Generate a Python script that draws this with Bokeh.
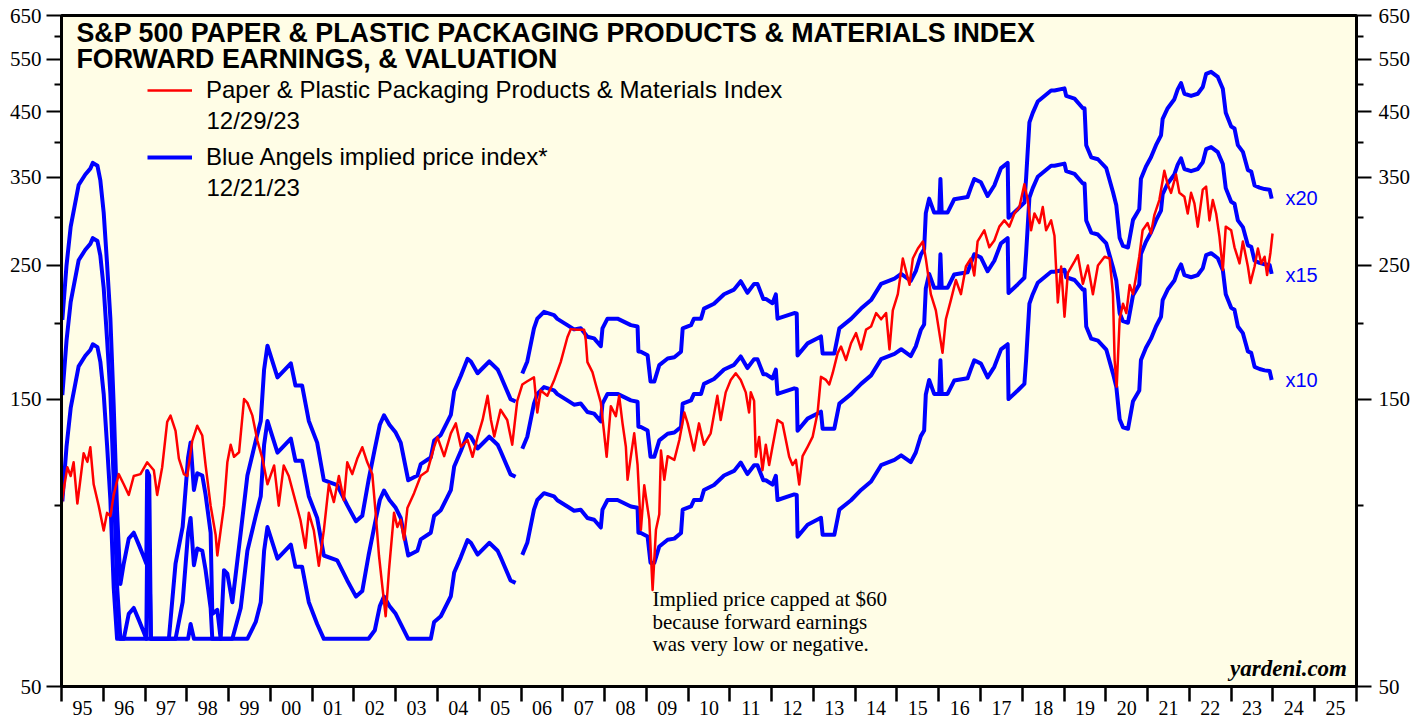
import numpy as np
from bokeh.plotting import figure
from bokeh.models import (Range1d, LogAxis, FixedTicker, PrintfTickFormatter, Label,
                          Legend, LegendItem)
from bokeh.embed import file_html
from bokeh.resources import INLINE

# ---------------- data ----------------
red_year = [
    1995.00, 1995.07, 1995.14, 1995.22, 1995.29, 1995.38, 1995.45, 1995.53, 1995.62, 1995.69,
    1995.77, 1995.89, 1996.01, 1996.09, 1996.17, 1996.25, 1996.37, 1996.49, 1996.61, 1996.73,
    1996.89, 1997.05, 1997.21, 1997.29, 1997.41, 1997.53, 1997.61, 1997.73, 1997.81, 1997.93,
    1998.01, 1998.13, 1998.25, 1998.37, 1998.45, 1998.57, 1998.69, 1998.73, 1998.81, 1998.89,
    1998.97, 1999.05, 1999.13, 1999.25, 1999.37, 1999.45, 1999.57, 1999.69, 1999.81, 1999.93,
    2000.09, 2000.20, 2000.32, 2000.44, 2000.56, 2000.72, 2000.84, 2000.92, 2001.04, 2001.16,
    2001.28, 2001.40, 2001.52, 2001.64, 2001.76, 2001.84, 2001.96, 2002.08, 2002.20, 2002.32,
    2002.44, 2002.52, 2002.60, 2002.68, 2002.76, 2002.84, 2002.96, 2003.04,
    2003.12, 2003.20, 2003.28, 2003.44, 2003.60, 2003.76, 2003.92, 2004.00, 2004.16, 2004.32,
    2004.44, 2004.56, 2004.72, 2004.84, 2004.96, 2005.08, 2005.20, 2005.28, 2005.36, 2005.51,
    2005.67, 2005.79, 2005.91, 2006.03, 2006.15, 2006.31, 2006.39, 2006.47, 2006.63, 2006.79,
    2006.95, 2007.11, 2007.19, 2007.35, 2007.51, 2007.55, 2007.59, 2007.71, 2007.79, 2007.91,
    2007.99, 2008.05, 2008.15, 2008.27, 2008.35, 2008.43, 2008.51, 2008.55, 2008.63, 2008.71,
    2008.79, 2008.87, 2008.95, 2009.07, 2009.15, 2009.23, 2009.31, 2009.35, 2009.43, 2009.51,
    2009.67, 2009.79, 2009.91, 2009.99, 2010.14, 2010.26, 2010.38, 2010.54, 2010.70, 2010.78,
    2010.90, 2011.02, 2011.14,
    2011.26, 2011.38, 2011.46, 2011.50, 2011.58, 2011.62, 2011.70, 2011.78, 2011.86, 2011.94,
    2012.02, 2012.14, 2012.26, 2012.34, 2012.42, 2012.50, 2012.58, 2012.66, 2012.74, 2012.86,
    2012.98, 2013.10, 2013.18, 2013.30, 2013.38, 2013.46, 2013.58, 2013.66, 2013.78, 2013.90,
    2014.02, 2014.14, 2014.26, 2014.38, 2014.50, 2014.62, 2014.74, 2014.82, 2014.90, 2015.02,
    2015.14, 2015.22, 2015.30, 2015.38, 2015.50, 2015.62, 2015.69, 2015.81, 2015.93, 2016.09,
    2016.17, 2016.29, 2016.41, 2016.53, 2016.65, 2016.77, 2016.85, 2016.93, 2017.09, 2017.21,
    2017.33, 2017.45, 2017.57, 2017.69, 2017.81, 2017.93, 2018.05, 2018.13, 2018.21, 2018.29,
    2018.41, 2018.49, 2018.57,
    2018.69, 2018.77, 2018.85, 2018.93, 2019.01, 2019.09, 2019.25, 2019.33, 2019.45, 2019.57,
    2019.69, 2019.81, 2019.97, 2020.09, 2020.17, 2020.21, 2020.26, 2020.33, 2020.41, 2020.49,
    2020.57, 2020.65, 2020.72, 2020.80, 2020.88, 2021.00, 2021.08, 2021.16, 2021.28, 2021.40,
    2021.48, 2021.56, 2021.68, 2021.76, 2021.88, 2021.96, 2022.04, 2022.12, 2022.20, 2022.32,
    2022.40, 2022.48, 2022.56, 2022.64, 2022.72, 2022.80, 2022.87, 2023.00, 2023.08, 2023.20,
    2023.28, 2023.40, 2023.46, 2023.56, 2023.64, 2023.72, 2023.80, 2023.86, 2023.94, 2023.99,
]
red_value = [
    100.0, 108.0, 115.6, 111.8, 117.8, 100.6, 110.0, 122.0, 118.0, 124.8,
    108.3, 99.8, 90.8, 97.1, 95.9, 104.0, 112.6, 108.3, 104.0, 111.8,
    112.6, 117.8, 114.3, 104.0, 115.6, 137.5, 140.8, 132.8, 119.5, 112.6,
    111.8, 127.9, 135.5, 130.5, 116.4, 99.8, 89.2, 82.5, 90.8, 99.8,
    117.8, 126.0, 120.3, 122.4, 150.0, 147.9, 140.8, 127.9, 119.5, 108.3,
    116.4, 99.8, 116.4, 111.8, 104.0, 94.5, 84.9, 97.1, 90.8, 79.3,
    90.8, 108.3, 101.2, 111.8, 101.9, 117.8, 112.6, 119.5, 124.8, 117.8,
    112.6, 97.1, 82.5, 73.3, 65.4, 78.1, 97.1, 92.0,
    94.6, 87.6, 98.9, 104.7, 111.9, 114.0, 125.0, 129.7, 120.6, 131.6,
    136.7, 125.0, 128.3, 120.3, 129.8, 138.5, 151.9, 138.5, 130.0, 144.0,
    138.5, 126.0, 149.0, 158.6, 160.6, 163.0, 142.5, 155.0, 152.0, 161.0,
    172.8, 190.0, 196.0, 195.6, 195.6, 188.0, 172.8, 166.3, 158.6, 148.0,
    131.6, 120.3, 146.0, 140.5, 151.9, 136.7, 125.0, 110.2, 120.6, 131.6,
    116.6, 91.0, 107.9, 94.6, 72.3, 91.0, 96.6, 123.2, 110.2, 120.6,
    118.9, 128.3, 142.5, 136.7, 123.2, 136.7, 126.0, 131.6, 151.9, 138.5,
    153.9, 161.4, 165.6,
    161.4, 153.9, 142.5, 154.0, 149.0, 120.3, 129.8, 114.3, 126.0, 116.6,
    125.0, 138.5, 136.7, 128.3, 120.3, 116.6, 118.9, 108.2, 120.6, 125.0,
    129.8, 142.5, 163.3, 161.4, 158.6, 165.6, 178.8, 183.4, 174.2, 185.7,
    193.0, 181.4, 195.6, 198.0, 208.4, 203.5, 208.4, 181.4, 210.6, 224.0,
    256.8, 244.0, 232.2, 256.8, 266.8, 274.0, 256.8, 224.0, 210.6, 179.0,
    203.5, 219.0, 236.5, 224.0, 249.0, 256.8, 240.6, 274.0, 286.0, 268.0,
    275.0, 290.0, 297.0, 290.0, 305.0, 312.5, 341.0, 321.0, 286.0, 305.0,
    294.0, 312.5, 286.0,
    297.0, 280.0, 217.0, 249.0, 205.5, 243.0, 254.0, 260.0, 233.0, 250.0,
    224.0, 250.0, 258.5, 256.8, 224.0, 174.0, 157.3, 203.5, 216.0, 208.4,
    232.0, 224.0, 239.0, 258.5, 286.0, 294.0, 282.5, 303.0, 321.0, 359.0,
    341.0, 330.0, 354.0, 330.0, 325.0, 305.0, 330.0, 317.0, 290.0, 334.0,
    338.0, 297.0, 321.0, 305.0, 279.0, 245.6, 290.0, 286.0, 268.0, 252.0,
    274.0, 249.0, 233.7, 249.0, 266.8, 252.0, 258.5, 241.0, 262.5, 282.5,
]

earn_year = [
    1995.02, 1995.12, 1995.22, 1995.41, 1995.57, 1995.69, 1995.75, 1995.86, 1995.93, 1996.01,
    1996.09, 1996.17, 1996.25, 1996.33, 1996.41, 1996.49, 1996.61, 1996.73, 1996.85, 1996.97,
    1997.03, 1997.05, 1997.10, 1997.14, 1997.30, 1997.45, 1997.57, 1997.73, 1997.90, 1998.03,
    1998.09, 1998.17, 1998.25, 1998.37, 1998.45, 1998.57, 1998.61, 1998.73, 1998.81, 1998.89,
    1998.97, 1999.09, 1999.29, 1999.45, 1999.65, 1999.77, 1999.85, 1999.93, 2000.17, 2000.49,
    2000.60, 2000.76, 2000.92, 2001.12, 2001.28, 2001.60, 2001.84, 2002.05, 2002.20, 2002.35,
    2002.50, 2002.62, 2002.72, 2002.85, 2003.00, 2003.12, 2003.30, 2003.52, 2003.60, 2003.84,
    2003.92, 2004.08, 2004.32, 2004.40, 2004.56, 2004.72, 2004.80, 2004.96, 2005.24, 2005.44,
    2005.51, 2005.75, 2005.87, 2005.95, 2006.03, 2006.15, 2006.31, 2006.39, 2006.55, 2006.79,
    2006.87, 2007.11, 2007.27, 2007.43, 2007.59, 2007.75, 2007.91, 2007.95, 2008.07, 2008.31,
    2008.63, 2008.79, 2008.81, 2008.87, 2009.03, 2009.10, 2009.19, 2009.31, 2009.51, 2009.67,
    2009.83, 2009.87, 2010.07, 2010.14, 2010.31, 2010.38, 2010.62, 2010.86, 2011.10, 2011.26,
    2011.42, 2011.58, 2011.66, 2011.80, 2011.86, 2012.02, 2012.10, 2012.14, 2012.54, 2012.60,
    2012.62, 2012.86, 2013.18, 2013.22, 2013.50, 2013.62, 2013.90, 2014.14, 2014.38, 2014.62,
    2014.94, 2015.10, 2015.33, 2015.45, 2015.57, 2015.65, 2015.69, 2015.77, 2015.89, 2016.01,
    2016.04, 2016.07, 2016.21, 2016.37, 2016.69, 2016.77, 2016.85, 2017.01, 2017.17, 2017.33,
    2017.49, 2017.65, 2017.67, 2017.89, 2018.05, 2018.09, 2018.17, 2018.25, 2018.37, 2018.69,
    2018.77, 2019.01, 2019.05, 2019.25, 2019.45, 2019.49, 2019.53, 2019.65, 2019.81, 2020.01,
    2020.17, 2020.25, 2020.33, 2020.41, 2020.53, 2020.65, 2020.80, 2020.84, 2020.96, 2021.08,
    2021.20, 2021.32, 2021.36, 2021.48, 2021.64, 2021.72, 2021.80, 2021.88, 2022.04, 2022.20,
    2022.32, 2022.40, 2022.52, 2022.68, 2022.80, 2022.87, 2023.00, 2023.08, 2023.16, 2023.28,
    2023.40, 2023.48, 2023.56, 2023.68, 2023.80, 2023.92, 2023.97,
]
fwd_earnings = [
    10.15, 12.5, 14.5, 17.0, 17.7, 18.1, 18.5, 18.3, 17.3, 15.3,
    12.6, 10.2, 7.3, 4.9, 3.7, 4.0, 4.4, 4.5, 4.3, 4.1,
    4.0, 5.7, 5.6, 2.8, 2.5, 2.5, 3.0, 4.0, 4.6, 6.0,
    6.35, 5.3, 5.65, 5.6, 5.2, 4.5, 3.3, 3.35, 2.9, 3.9,
    3.85, 3.45, 4.5, 5.6, 6.4, 6.9, 8.4, 9.2, 8.15, 8.6,
    7.9, 7.9, 6.9, 6.35, 5.5, 5.4, 5.0, 4.7, 4.8, 5.5,
    6.2, 6.8, 7.05, 6.8, 6.6, 6.35, 5.5, 5.6, 5.85, 6.0,
    6.4, 6.54, 7.06, 7.73, 8.2, 8.75, 8.66, 8.28, 8.66, 8.4,
    8.2, 7.5, 7.43, float("nan"), 8.27, 8.66, 9.83, 10.2, 10.47, 10.34,
    10.19, 9.95, 9.79, 9.83, 9.52, 9.46, 9.18, 9.83, 10.2, 10.2,
    9.95, 9.9, 9.0, 8.99, 8.87, 8.02, 8.02, 8.54, 8.76, 8.8,
    8.99, 9.83, 9.95, 10.2, 10.2, 10.6, 10.8, 11.2, 11.4, 11.77,
    11.26, 11.65, 11.65, 11.0, 11.0, 10.82, 11.19, 10.2, 10.42, 10.4,
    8.86, 9.28, 9.53, 8.93, 8.93, 9.83, 10.19, 10.6, 10.95, 11.65,
    11.89, 12.1, 11.79, 12.23, 13.02, 13.3, 15.27, 16.14, 15.3, 15.3,
    17.4, 15.3, 15.3, 16.1, 16.24, 16.83, 17.4, 17.18, 16.3, 16.97,
    18.14, 18.5, 15.0, 15.5, 15.9, 17.4, 21.6, 22.4, 23.4, 24.4,
    24.4, 24.6, 23.9, 23.65, 22.8, 22.8, 19.8, 18.9, 18.76, 18.13,
    16.55, 15.73, 13.89, 13.47, 13.39, 14.88, 15.5, 17.42, 18.25, 18.9,
    19.8, 20.55, 21.9, 22.8, 23.6, 24.5, 25.1, 24.1, 23.9, 24.1,
    24.73, 26.0, 26.2, 25.7, 24.56, 22.4, 21.26, 21.1, 19.8, 19.3,
    18.0, 17.9, 16.97, 16.83, 16.74, 16.7, 16.14,
]
multiples = [20, 15, 10]
multiple_labels = ["x20", "x15", "x10"]
price_cap = 60

year_ticks = list(range(1995, 2027))
year_labels = ["95", "96", "97", "98", "99", "00", "01", "02", "03", "04", "05",
               "06", "07", "08", "09", "10", "11", "12", "13", "14", "15", "16",
               "17", "18", "19", "20", "21", "22", "23", "24", "25"]
y_major = [50, 150, 250, 350, 450, 550, 650]
y_minor = [100, 200, 300, 400, 500, 600]

title_lines = ["S&P 500 PAPER & PLASTIC PACKAGING PRODUCTS & MATERIALS INDEX",
               "FORWARD EARNINGS, & VALUATION"]
legend_red = "Paper & Plastic Packaging Products & Materials Index"
legend_red_date = "12/29/23"
legend_blue = "Blue Angels implied price index*"
legend_blue_date = "12/21/23"
note_lines = ["Implied price capped at $60", "because forward earnings",
              "was very low or negative."]

# ---------------- geometry helpers (pixel -> data) ----------------
X0, X1, PX0, PX1 = 1995.0, 2026.0, 61.0, 1356.0
Y0, Y1, PY0, PY1 = 50.0, 650.0, 687.0, 15.0


def xd(px):
    return X0 + (px - PX0) * (X1 - X0) / (PX1 - PX0)


def yd(py):
    return Y0 * (Y1 / Y0) ** ((PY0 - py) / (PY0 - PY1))


p = figure(width=1427, height=717, x_range=Range1d(X0, X1), y_range=Range1d(Y0, Y1),
           y_axis_type="log", output_backend="svg", toolbar_location=None,
           min_border_left=61, min_border_right=71, min_border_top=15, min_border_bottom=30,
           background_fill_color="#fffde6", border_fill_color="white",
           outline_line_color="black", outline_line_width=3)
p.xgrid.visible = False
p.ygrid.visible = False

# x axis: boundary ticks at each new year (minor), year labels centred (major, no tick)
mid_years = [t + 0.5 for t in year_ticks[:-1]]
xa = p.xaxis[0]
xa.ticker = FixedTicker(ticks=mid_years, minor_ticks=year_ticks)
xa.major_label_overrides = {m: lab for m, lab in zip(mid_years, year_labels)}
xa.axis_line_width = 3
xa.major_tick_out = 0
xa.major_tick_in = 0
xa.minor_tick_out = 15
xa.minor_tick_in = 0
xa.minor_tick_line_width = 2.5
xa.minor_tick_line_color = "black"
xa.major_label_text_font = "Liberation Serif"
xa.major_label_text_font_size = "20px"
xa.major_label_text_color = "black"
xa.major_label_standoff = -1


def style_y(ax):
    ax.ticker = FixedTicker(ticks=y_major, minor_ticks=y_minor)
    ax.formatter = PrintfTickFormatter(format="%d")
    ax.axis_line_width = 3
    ax.major_tick_out = 15
    ax.major_tick_in = 0
    ax.minor_tick_out = 7
    ax.minor_tick_in = 0
    ax.major_tick_line_width = 2
    ax.minor_tick_line_width = 2
    ax.major_label_text_font = "Liberation Serif"
    ax.major_label_text_font_size = "21px"
    ax.major_label_text_color = "black"


style_y(p.yaxis[0])
p.yaxis[0].major_label_standoff = 5
ra = LogAxis()
style_y(ra)
ra.major_label_standoff = 7
p.add_layout(ra, "right")

# ---------------- series ----------------
E = np.array(fwd_earnings, dtype=float)
ex = np.array(earn_year, dtype=float)
blue_renderers = []
for k in multiples:
    implied = np.maximum(price_cap, k * E)
    r = p.line(ex, implied, line_color="#0000ff", line_width=4, line_join="round")
    blue_renderers.append(r)

red_r = p.line(red_year, red_value, line_color="#ff0000", line_width=2.5, line_join="round")

# ---------------- legend ----------------
legend = Legend(items=[LegendItem(label=legend_red, renderers=[red_r]),
                       LegendItem(label=legend_blue, renderers=[blue_renderers[0]])],
                location=(86, 515), orientation="vertical",
                background_fill_alpha=0, border_line_alpha=0, padding=0, margin=0,
                spacing=39, glyph_width=45, glyph_height=28, label_height=28,
                label_standoff=14, label_text_font="Liberation Sans",
                label_text_font_size="24px", label_text_color="black")
p.add_layout(legend)


def add_text(txt, px, py, font, size, style="normal", color="black", align="left"):
    p.add_layout(Label(x=xd(px), y=yd(py), text=txt, text_font=font,
                       text_font_size=size, text_font_style=style, text_color=color,
                       text_align=align, text_baseline="middle"))


# legend dates
add_text(legend_red_date, 206, 120.0, "Liberation Sans", "24px")
add_text(legend_blue_date, 206, 186.8, "Liberation Sans", "24px")

# title
for txt, py in zip(title_lines, [32.4, 59.0]):
    add_text(txt, 76, py, "Liberation Sans", "26.8px", style="bold")

# multiple labels
for txt, py in zip(multiple_labels, [198.0, 274.7, 379.7]):
    add_text(txt, 1285, py, "Liberation Sans", "20px", color="#0000ff")

# note
for txt, py in zip(note_lines, [599.6, 622.2, 644.4]):
    add_text(txt, 652, py, "Liberation Serif", "21px")

add_text("yardeni.com", 1346.5, 669.0, "Liberation Serif", "23px",
         style="bold italic", align="right")

open("out.html", "w").write(file_html(p, INLINE))
